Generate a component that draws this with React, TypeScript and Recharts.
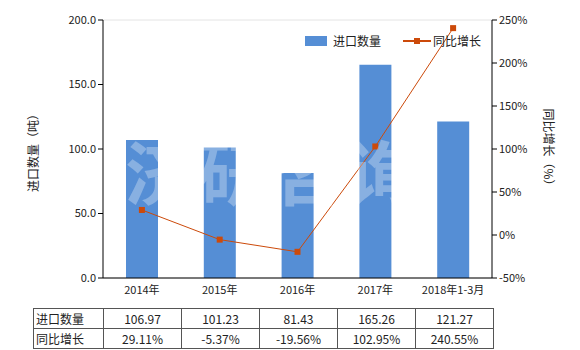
import { Bar, ComposedChart, CartesianGrid, Line, XAxis, YAxis } from 'recharts';

const categories = ['2014年', '2015年', '2016年', '2017年', '2018年1-3月'];
const importQty = [106.97, 101.23, 81.43, 165.26, 121.27];
const yoyGrowth = [29.11, -5.37, -19.56, 102.95, 240.55];
const qtyLabels = ['106.97', '101.23', '81.43', '165.26', '121.27'];
const growthLabels = ['29.11%', '-5.37%', '-19.56%', '102.95%', '240.55%'];
const leftTicks = [0, 50, 100, 150, 200];
const rightTicks = [-50, 0, 50, 100, 150, 200, 250];

const BAR_COLOR = '#558ED5';
const LINE_COLOR = '#CC4A0A';
const FONT = '"Noto Sans CJK SC", "DejaVu Sans", sans-serif';

const data = categories.map((name, i) => ({ name, qty: importQty[i], yoy: yoyGrowth[i] }));

const SquareDot = (props: any) => {
  const { cx, cy } = props;
  if (cx == null || cy == null) return null;
  return <rect x={cx - 3} y={cy - 3} width={6} height={6} fill={LINE_COLOR} />;
};

const LegendBox = () => (
  <div
    style={{
      position: 'absolute',
      left: 305,
      top: 32,
      display: 'flex',
      alignItems: 'center',
      fontSize: 12,
      color: '#222',
      fontFamily: FONT,
    }}
  >
    <span style={{ display: 'inline-block', width: 22, height: 10, background: BAR_COLOR, marginRight: 6 }} />
    <span style={{ marginRight: 22 }}>进口数量</span>
    <svg width={28} height={10} style={{ marginRight: 2 }}>
      <line x1={0} y1={5} x2={28} y2={5} stroke={LINE_COLOR} strokeWidth={2} />
      <rect x={11} y={2} width={6} height={6} fill={LINE_COLOR} />
    </svg>
    <span>同比增长</span>
  </div>
);

const cell: React.CSSProperties = {
  border: '1px solid #555',
  height: 19,
  padding: 0,
  textAlign: 'center',
  fontSize: 12,
};

export default function App() {
  return (
    <div style={{ position: 'absolute', left: 0, top: 0, width: 580, height: 350, fontFamily: FONT, background: '#fff' }}>
      <ComposedChart width={580} height={300} data={data} margin={{ top: 20, right: 0, bottom: 0, left: 0 }}>
        <CartesianGrid vertical={false} stroke="#e4e4e4" />
        <XAxis
          dataKey="name"
          height={22}
          stroke="#000"
          tickLine={false}
          tick={{ fontSize: 11, fill: '#222' }}
        />
        <YAxis
          yAxisId="left"
          width={103}
          domain={[0, 200]}
          ticks={leftTicks}
          interval={0}
          stroke="#000"
          tickSize={5}
          tickFormatter={(v: number) => v.toFixed(1)}
          tick={{ fontSize: 11, fill: '#222' }}
          label={{
            content: () => (
              <text x={38} y={150} transform="rotate(-90 38 150)" textAnchor="middle" fontSize={12} fill="#222">
                进口数量（吨）
              </text>
            ),
          }}
        />
        <YAxis
          yAxisId="right"
          orientation="right"
          width={88}
          domain={[-50, 250]}
          ticks={rightTicks}
          interval={0}
          stroke="#000"
          tickSize={5}
          tickFormatter={(v: number) => `${v}%`}
          tick={{ fontSize: 11, fill: '#222' }}
          label={{
            content: () => (
              <text x={544} y={150} transform="rotate(90 544 150)" textAnchor="middle" fontSize={12} fill="#222">
                同比增长（%）
              </text>
            ),
          }}
        />
        <Bar yAxisId="left" dataKey="qty" fill={BAR_COLOR} barSize={32} isAnimationActive={false} />
        <Line
          yAxisId="right"
          dataKey="yoy"
          stroke={LINE_COLOR}
          strokeWidth={1}
          dot={<SquareDot />}
          activeDot={false}
          isAnimationActive={false}
        />
      </ComposedChart>
      <LegendBox />
      <div
        style={{
          position: 'absolute',
          left: 125,
          top: 130,
          fontSize: 70,
          fontWeight: 'bold',
          letterSpacing: 4,
          color: 'rgba(255,255,255,0.3)',
          pointerEvents: 'none',
          whiteSpace: 'nowrap',
          lineHeight: '80px',
        }}
      >
        济研咨询
      </div>
      <table
        style={{
          position: 'absolute',
          left: 33,
          top: 308,
          borderCollapse: 'collapse',
          tableLayout: 'fixed',
          width: 460,
          color: '#222',
        }}
      >
        <colgroup>
          <col style={{ width: 70 }} />
          {categories.map((c) => (
            <col key={c} style={{ width: 78 }} />
          ))}
        </colgroup>
        <tbody>
          <tr>
            <td style={{ ...cell, textAlign: 'left', paddingLeft: 2 }}>进口数量</td>
            {qtyLabels.map((v, i) => (
              <td key={i} style={cell}>{v}</td>
            ))}
          </tr>
          <tr>
            <td style={{ ...cell, textAlign: 'left', paddingLeft: 2 }}>同比增长</td>
            {growthLabels.map((v, i) => (
              <td key={i} style={cell}>{v}</td>
            ))}
          </tr>
        </tbody>
      </table>
    </div>
  );
}
